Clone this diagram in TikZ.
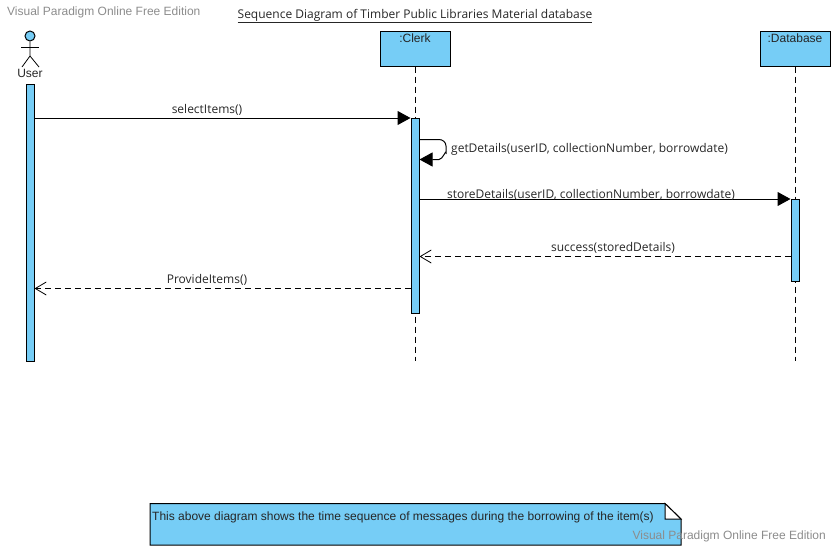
\documentclass[tikz,border=0pt]{standalone}
\usepackage{fontspec}
\setmainfont{Liberation Sans}
\newfontfamily\msgfont{Open Sans}
\usetikzlibrary{positioning}
\usetikzlibrary{calc,arrows.meta}
\definecolor{vpblue}{HTML}{76CDF6}
\definecolor{vpgrey}{HTML}{8C8C8C}
\tikzset{
	objbox/.style={draw=black,fill=vpblue,minimum width=70pt,minimum height=35pt,inner sep=0pt,line width=1pt},
	actbar/.style={draw=black,fill=vpblue,minimum width=8pt,inner sep=0pt,line width=1pt},
	lifeline/.style={line width=1pt,dash pattern=on 6pt off 4pt},
	msgsync/.style={line width=1pt,-{Triangle[length=13pt,width=14pt]}},
	msgback/.style={line width=0.8pt,dash pattern=on 6pt off 4pt,-{Straight Barb[length=11pt,width=13pt]}},
	msglabel/.style={font=\msgfont\fontsize{12}{14}\selectfont,text=black!85,inner sep=0pt},
	boxlabel/.style={font=\fontsize{12}{14}\selectfont,text=black!85,inner sep=0pt},
	watermark/.style={font=\fontsize{12}{14}\selectfont,text=vpgrey,inner sep=0pt}
}
\begin{document}
\begin{tikzpicture}[x=1pt,y=-1pt]
	\useasboundingbox (0,0) rectangle (831,546);
	\coordinate(USERTOP) at (30,56);
	\coordinate(CLERKEND) at (415,361);
	\coordinate(DBEND) at (795,361);
	\coordinate(S) at (0,256.5);
	\coordinate(P) at (0,288.5);
	
	\node[watermark,anchor=west] (wmtop) at (7,12) {Visual Paradigm Online Free Edition};
	\node[msglabel] (title) at (415,16) {\underline{Sequence Diagram of Timber Public Libraries Material database}};
	
	\node[objbox] (clerk) at (415,48.5) {};
	\node[objbox] (db) at (795,48.5) {};
	\node[boxlabel] (clerklabel) at (415,38.5) {:Clerk};
	\node[boxlabel] (dblabel) at (795,38.5) {:Database};
	
	\draw[lifeline] (clerk.south) -- (CLERKEND);
	\draw[lifeline] (db.south) -- (DBEND);
	
	% actor
	\node[draw=black,fill=vpblue,circle,minimum size=10pt,inner sep=0pt,line width=1pt] (head) at (30,36) {};
	\draw[line width=0.8pt] (head.south) -- (USERTOP) -- (22,67);
	\draw[line width=0.8pt] (USERTOP) -- (39,67);
	\draw[line width=0.8pt] (21,47) -- (39,47);
	\node[boxlabel] (user) at (30,73.5) {User};
	
	\node[actbar,minimum height=277pt] (useract) at (30,222.5) {};
	\node[actbar,minimum height=195pt] (clerkact) at (415,216) {};
	\node[actbar,minimum height=82pt] (dbact) at (795,240.5) {};
	
	\draw[msgsync] (useract.east |- clerkact.north) -- (clerkact.north west);
	\draw[msgsync] (clerkact.east |- 0,139.5) -- (439,139.5) to[out=0,in=90] (446,146) -- (446,153) to[out=90,in=0] (439,159.5) -- (clerkact.east |- 0,159.5);
	\draw[msgsync] (clerkact.east |- dbact.north) -- (dbact.north west);
	\draw[msgback] (dbact.west |- S) -- (clerkact.east |- S);
	\draw[msgback] (clerkact.west |- P) -- (useract.east |- P);
	
	\node[msglabel] (selectlabel) at (207,110) {selectItems()};
	\node[msglabel,anchor=west] (getlabel) at (451,149.5) {getDetails(userID, collectionNumber, borrowdate)};
	\node[msglabel] (storelabel) at (591,195) {storeDetails(userID, collectionNumber, borrowdate)};
	\node[msglabel] (successlabel) at (613,248) {success(storedDetails)};
	\node[msglabel] (providelabel) at (207,279.5) {ProvideItems()};
	
	% note
	\draw[draw=black,fill=vpblue,line width=1pt] (150,503.5) -- (665,503.5) -- (681,519) -- (681,545) -- (150,545) -- cycle;
	\draw[draw=black,fill=white,line width=1pt] (665,503.5) -- (681,519) -- (665,519) -- cycle;
	\node[boxlabel,anchor=west] (notelabel) at (152,517) {This above diagram shows the time sequence of messages during the borrowing of the item(s)};
	\node[watermark,anchor=east] (wmbottom) at (826,536.5) {Visual Paradigm Online Free Edition};
\end{tikzpicture}
\end{document}
